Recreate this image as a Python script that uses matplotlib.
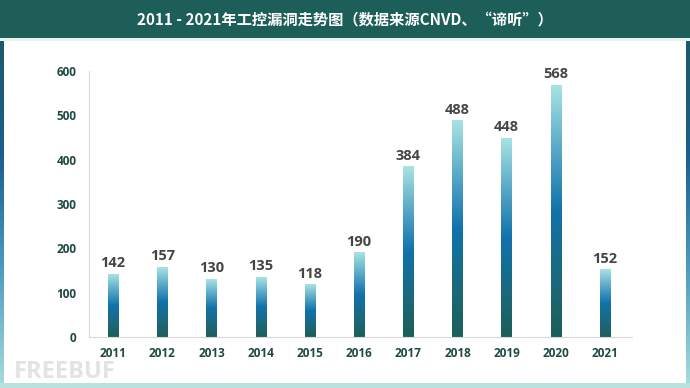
import matplotlib
matplotlib.use('Agg')
import numpy as np
import matplotlib.pyplot as plt
from matplotlib.colors import LinearSegmentedColormap
from matplotlib.patches import Rectangle

plt.rcParams['font.family'] = ['Noto Sans CJK SC', 'DejaVu Sans']

years = ['2011', '2012', '2013', '2014', '2015', '2016', '2017', '2018', '2019', '2020', '2021']
counts = [142, 157, 130, 135, 118, 190, 384, 488, 448, 568, 152]
yticks = [0, 100, 200, 300, 400, 500, 600]
title = '2011 - 2021年工控漏洞走势图（数据来源CNVD、“谛听”）'

num_font = ['Open Sans', 'DejaVu Sans']

bar_cmap = LinearSegmentedColormap.from_list(
    'bar', ['#1d5f58', '#1a6a80', '#1172ab', '#5aa9c8', '#a9e3e3'])
edge_cmap = LinearSegmentedColormap.from_list(
    'edge', ['#a8dede', '#4f9cc0', '#1a5f8e', '#1d5a66'])

fig = plt.figure(figsize=(6.9, 3.88), dpi=100)
fig.patch.set_facecolor('white')

# slide frame: header bar, side borders, bottom strip
bg = fig.add_axes([0, 0, 1, 1])
bg.axis('off')
bg.add_patch(Rectangle((0, 0), 690, 38, color='#1d5e58', lw=0))
bg.add_patch(Rectangle((0, 38), 690, 3, color='#e6f2f1', lw=0))
grad = np.linspace(0, 1, 256).reshape(-1, 1)
bg.imshow(grad[::-1], cmap=edge_cmap, extent=(0, 4, 388, 38), aspect='auto')
bg.imshow(grad[::-1], cmap=edge_cmap, extent=(686, 690, 388, 38), aspect='auto')
bg.add_patch(Rectangle((0, 383), 690, 5, color='#b9e2de', lw=0))
bg.text(345, 19, title, color='white', fontsize=11, fontweight='bold',
        ha='center', va='center')
# faint watermark, kept below the x labels
bg.text(14, 372, 'FREEBUF', color='#dcdcdc', fontsize=17, fontweight='bold',
        family=num_font, ha='left', va='center', alpha=0.8, zorder=0)
bg.set_xlim(0, 690)
bg.set_ylim(388, 0)

ax = fig.add_axes([0.129, 0.1314, 0.787, 0.6856])
ax.patch.set_alpha(0)
x = np.arange(len(years))
bars = ax.bar(x, counts, width=0.21, color='none')
for b, v in zip(bars, counts):
    x0 = b.get_x()
    ax.imshow(grad, cmap=bar_cmap, origin='lower',
              extent=(x0, x0 + b.get_width(), 0, v), aspect='auto', zorder=2)
    ax.text(b.get_x() + b.get_width() / 2, v + 9, str(v), ha='center', va='bottom',
            fontsize=10.5, fontweight='bold', color='#454545', family=num_font)

ax.set_xlim(-0.49, 10.55)
ax.set_ylim(0, 600)
ax.set_xticks(x)
ax.set_xticklabels(years)
ax.set_yticks(yticks)
for s in ['top', 'right']:
    ax.spines[s].set_visible(False)
for s in ['left', 'bottom']:
    ax.spines[s].set_color('#d9d9d9')
    ax.spines[s].set_linewidth(0.8)
ax.tick_params(length=0, labelsize=8.5, labelcolor='#1f4a44')
for lbl in ax.get_xticklabels() + ax.get_yticklabels():
    lbl.set_fontweight('bold')
    lbl.set_family(num_font)
ax.tick_params(axis='x', pad=7)
ax.tick_params(axis='y', pad=9)

fig.savefig('out.png', dpi=100)
